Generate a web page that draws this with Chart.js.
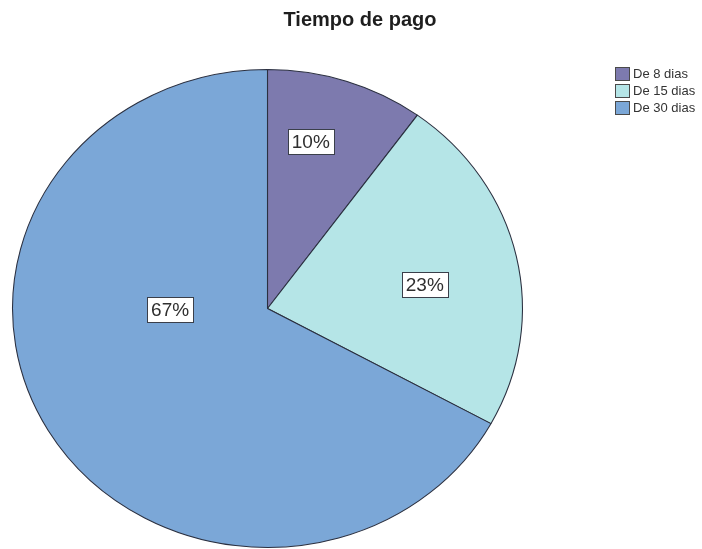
<!DOCTYPE html>
<html>
<head>
<meta charset="utf-8">
<title>Tiempo de pago</title>
<script src="https://cdn.jsdelivr.net/npm/chart.js@4/dist/chart.umd.min.js"></script>
<style>
  html, body { margin: 0; padding: 0; background: #ffffff; }
  canvas { display: block; }
</style>
</head>
<body>
<canvas id="chart" width="702" height="549"></canvas>
<script>
// Payment terms and their share of responses (percent)
const categories = ['De 8 dias', 'De 15 dias', 'De 30 dias'];
const shares = [10, 23, 67];
const sliceColors = ['#7d7aae', '#b5e5e7', '#7ba7d7'];
const chartTitle = 'Tiempo de pago';

// The pie is drawn slightly wider than tall
const stretchX = 255.5 / 239.5;

// Where each percentage box sits: fraction along the slice's sweep and of the radius
const labelPlacement = [
  { along: 0.38, radius: 0.718 },
  { along: 0.54, radius: 0.625 },
  { along: 0.623, radius: 0.382 }
];

const ellipsePie = {
  id: 'ellipsePie',
  beforeDatasetsDraw(chart) {
    const arc = chart.getDatasetMeta(0).data[0];
    const ctx = chart.ctx;
    ctx.save();
    ctx.translate(arc.x, arc.y);
    ctx.scale(stretchX, 1);
    ctx.translate(-arc.x, -arc.y);
  },
  afterDatasetsDraw(chart) {
    chart.ctx.restore();
  }
};

const annotations = {
  id: 'annotations',
  afterDraw(chart) {
    const ctx = chart.ctx;
    const meta = chart.getDatasetMeta(0);
    const total = shares.reduce((a, b) => a + b, 0);

    // Percentage boxes
    ctx.save();
    ctx.font = '19px "Liberation Sans", Arial, sans-serif';
    ctx.textAlign = 'center';
    ctx.textBaseline = 'middle';
    meta.data.forEach((arc, i) => {
      const p = labelPlacement[i];
      const a = arc.startAngle + p.along * (arc.endAngle - arc.startAngle);
      const r = arc.outerRadius * p.radius;
      const x = arc.x + Math.cos(a) * r * stretchX;
      const y = arc.y + Math.sin(a) * r;
      const text = Math.round(shares[i] / total * 100) + '%';
      const w = ctx.measureText(text).width + 8;
      const h = 25;
      ctx.fillStyle = '#ffffff';
      ctx.fillRect(Math.round(x - w / 2) + 0.5, Math.round(y - h / 2) + 0.5, Math.round(w), h);
      ctx.strokeStyle = '#3a3f4a';
      ctx.lineWidth = 1;
      ctx.strokeRect(Math.round(x - w / 2) + 0.5, Math.round(y - h / 2) + 0.5, Math.round(w), h);
      ctx.fillStyle = '#2f2f2f';
      ctx.fillText(text, x, y + 1);
    });
    ctx.restore();

    // Title
    ctx.save();
    ctx.font = 'bold 20px "Liberation Sans", Arial, sans-serif';
    ctx.fillStyle = '#1e1e1e';
    ctx.textAlign = 'center';
    ctx.textBaseline = 'middle';
    ctx.fillText(chartTitle, 360, 20);
    ctx.restore();

    // Legend
    ctx.save();
    ctx.font = '13px "Liberation Sans", Arial, sans-serif';
    ctx.textBaseline = 'middle';
    ctx.textAlign = 'left';
    categories.forEach((label, i) => {
      const y = 74 + i * 17;
      ctx.fillStyle = sliceColors[i];
      ctx.fillRect(615.5, y - 7 + 0.5, 14, 13);
      ctx.strokeStyle = '#4a4a4a';
      ctx.lineWidth = 1;
      ctx.strokeRect(615.5, y - 7 + 0.5, 14, 13);
      ctx.fillStyle = '#333333';
      ctx.fillText(label, 633, y);
    });
    ctx.restore();
  }
};

new Chart(document.getElementById('chart'), {
  type: 'pie',
  data: {
    labels: categories,
    datasets: [{
      data: shares,
      backgroundColor: sliceColors,
      borderColor: '#2b3040',
      borderWidth: 1
    }]
  },
  options: {
    responsive: false,
    animation: false,
    devicePixelRatio: 1,
    layout: { padding: { left: 28, right: 195, top: 69, bottom: 1 } },
    plugins: {
      legend: { display: false },
      title: { display: false },
      tooltip: { enabled: false }
    }
  },
  plugins: [ellipsePie, annotations]
});
</script>
</body>
</html>
